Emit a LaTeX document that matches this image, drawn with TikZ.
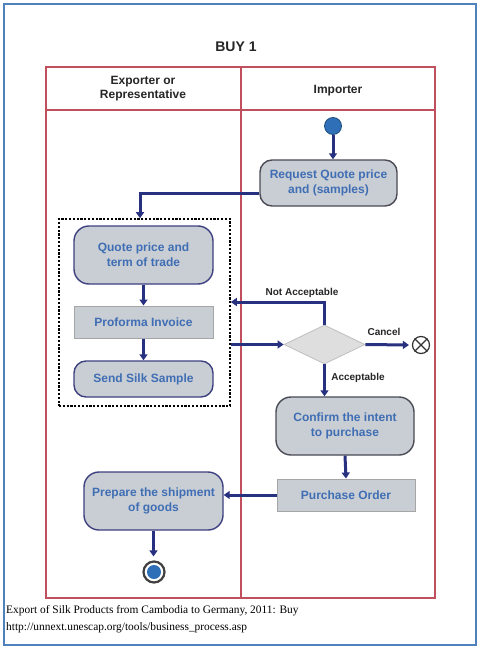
\documentclass[tikz,border=0pt]{standalone}
\usepackage{fontspec}
\setmainfont{Liberation Serif}
\setsansfont{Liberation Sans}
\usetikzlibrary{arrows.meta,shapes.geometric,calc}
\definecolor{frameblue}{HTML}{4F81BD}
\definecolor{lanered}{HTML}{C0505E}
\definecolor{txtblue}{HTML}{3F6EB4}
\definecolor{boxfill}{HTML}{C9CDD4}
\definecolor{navy}{HTML}{283080}
\definecolor{edgegray}{HTML}{4A4B55}
\definecolor{edgenavy}{HTML}{3E4180}
\definecolor{dotblue}{HTML}{2E6FB7}
\tikzset{
  act/.style={draw=edgegray, line width=1.4pt, fill=boxfill, rounded corners=12pt,
    minimum width=137pt, minimum height=46pt, align=center, text=txtblue,
    font=\sffamily\bfseries\fontsize{12}{15}\selectfont, inner sep=2pt},
  actl/.style={act, draw=edgenavy},
  doc/.style={draw=black!35, line width=1pt, fill=boxfill, minimum width=138pt, minimum height=32pt,
    align=center, text=txtblue, font=\sffamily\bfseries\fontsize{12}{15}\selectfont, inner sep=2pt},
  arr/.style={draw=navy, line width=3pt, -{Triangle[length=6pt,width=8pt]}},
  lbl/.style={font=\sffamily\bfseries\fontsize{10}{12}\selectfont, text=black!85, inner sep=0pt},
  hdr/.style={font=\sffamily\bfseries\fontsize{12}{14}\selectfont, align=center, text=black!85},
  lane/.style={draw=lanered, line width=1.3pt}
}
\begin{document}
\begin{tikzpicture}[x=1pt,y=-1pt]
\useasboundingbox (0,0) rectangle (481,650);
\fill[white] (0,0) rectangle (481,650);
\draw[frameblue, line width=2pt] (4,4) rectangle (476,645);
\node[font=\sffamily\bfseries\fontsize{14}{16}\selectfont, text=black!85] (title) at (236,47) {BUY 1};
% swimlanes
\draw[lane] (46,67) rectangle (435,598);
\draw[lane] (46,110) -- (435,110);
\draw[lane] (241,67) -- (241,598);
\node[hdr] (hexp) at (143,89) {Exporter or\\Representative};
\node[hdr] (himp) at (338,91) {Importer};
% nodes
\node[circle, fill=dotblue, draw=dotblue!70!black, line width=0.8pt, minimum size=17pt, inner sep=0pt] (start) at (333,126) {};
\node[act, minimum width=137pt, minimum height=46pt] (req) at (328.5,183) {Request Quote price\\and (samples)};
\node[draw=black, dashed, dash pattern=on 2.2pt off 1.6pt, line width=1.6pt, minimum width=171pt, minimum height=187pt, inner sep=0pt] (grp) at (144.5,312.5) {};
\node[actl, minimum width=139pt, minimum height=58pt, rounded corners=15pt] (quote) at (143.5,255) {Quote price and\\term of trade};
\node[doc, minimum width=139pt] (pro) at (143.5,322) {Proforma Invoice};
\node[actl, minimum width=139pt, minimum height=36pt] (send) at (143.5,379) {Send Silk Sample};
\node[diamond, draw=black!25, fill=black!13, line width=0.8pt, shape aspect=2.08, minimum width=81pt, minimum height=39pt, inner sep=0pt] (dia) at (324.5,344.5) {};
\node[circle, draw=black!80, line width=1.2pt, minimum size=17pt, inner sep=0pt] (cancel) at (421,345) {};
\draw[black!80, line width=1.2pt] (cancel.north west) -- (cancel.south east) (cancel.north east) -- (cancel.south west);
\node[act, minimum width=138pt, minimum height=58pt, rounded corners=15pt] (conf) at (345,426) {Confirm the intent\\to purchase};
\node[doc] (po) at (346,495) {Purchase Order};
\node[actl, minimum width=139pt, minimum height=58pt, rounded corners=15pt] (prep) at (153.5,501) {Prepare the shipment\\of goods};
\node[circle, draw=black!75, fill=white, line width=2.2pt, minimum size=21pt, inner sep=0pt] (end) at (154,572) {};
\fill[dotblue] (end.center) circle (7pt);
% connectors
\draw[arr] (start.south) -- (start.south |- req.north);
\draw[arr] ([yshift=-10pt]req.west) -| ([xshift=-4.5pt]grp.north);
\draw[arr] (quote.south) -- (pro.north);
\draw[arr] (pro.south) -- (send.north);
\draw[arr] (dia.north) |- ([yshift=10.5pt]grp.east);
\draw[arr] (grp.east |- dia.west) -- (dia.west);
\draw[arr] (dia.east) -- ([xshift=-3pt]cancel.west);
\draw[arr] (dia.south) -- (dia.south |- conf.north);
\draw[arr] (conf.south) -- (po.north);
\draw[arr] (po.west) -- (po.west -| prep.east);
\draw[arr] (prep.south) -- ([yshift=4pt]prep.south |- end.north);
% labels
\node[lbl] (lna) at (302,293) {Not Acceptable};
\node[lbl] (lca) at (384,332) {Cancel};
\node[lbl] (lac) at (358,378) {Acceptable};
% caption
\node[anchor=west, inner sep=0pt, font=\fontsize{11.4}{14}\selectfont] (cap1) at (6,611) {Export of Silk Products from Cambodia to Germany, 2011: Buy};
\node[anchor=west, inner sep=0pt, font=\fontsize{11.4}{14}\selectfont] (cap2) at (6,628) {http://unnext.unescap.org/tools/business\_process.asp};
\end{tikzpicture}
\end{document}
